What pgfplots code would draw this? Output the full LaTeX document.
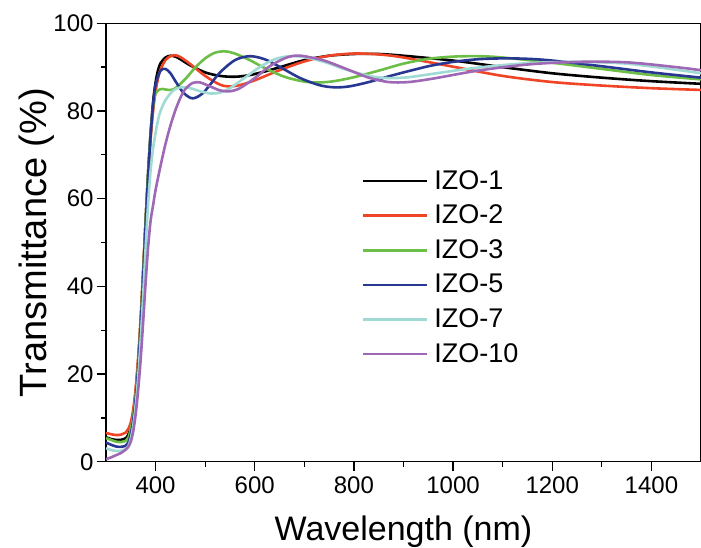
\documentclass[border=0pt]{standalone}
\usepackage{fontspec}
\setmainfont{Liberation Sans}
\usepackage{pgfplots}
\pgfplotsset{compat=1.18}
\definecolor{izoone}{RGB}{0,0,0}
\definecolor{izotwo}{RGB}{240,68,38}
\definecolor{izothree}{RGB}{108,190,70}
\definecolor{izofive}{RGB}{40,56,146}
\definecolor{izoseven}{RGB}{160,218,212}
\definecolor{izoten}{RGB}{158,104,182}

\begin{document}
\begin{tikzpicture}
\useasboundingbox (-106pt,-86.2pt) rectangle (595pt,461.8pt);
\begin{axis}[
  scale only axis,
  width=595pt,
  height=438.5pt,
  xmin=300, xmax=1500,
  ymin=0, ymax=100,
  xtick={400,600,...,1400},
  ytick={0,20,...,100},
  minor x tick num=1,
  minor y tick num=1,
  tick align=outside,
  xtick pos=bottom,
  ytick pos=left,
  major tick length=9pt,
  minor tick length=5pt,
  axis line style={line width=1.3pt},
  every tick/.style={black, line width=1.3pt},
  tick label style={font=\fontsize{24}{28}\selectfont},
  xticklabel style={yshift=-2pt},
  /pgf/number format/assume math mode=true,
  /pgf/number format/1000 sep={},
  xlabel={Wavelength (nm)},
  ylabel={Transmittance (\%)},
  xlabel style={font=\fontsize{34}{40}\selectfont, at={(axis description cs:0.5,-0.1802)}, anchor=base},
  ylabel style={font=\fontsize{38}{44}\selectfont, at={(axis description cs:-0.1008,0.5)}, anchor=base},
  legend cell align=left,
  legend style={draw=none, fill=none, inner sep=0pt, outer sep=0pt,
    at={(axis description cs:0.430,0.665)}, anchor=north west,
    font=\fontsize{27}{32}\selectfont,
    row sep=12.6pt, column sep=6pt,
    nodes={inner sep=0pt, text height=19pt, text depth=3pt}},
  legend image code/.code={\draw[#1, line width=2.6pt] (0pt,0pt) -- (64pt,0pt);},
  every axis plot/.append style={line width=2.6pt, smooth, tension=0.5}
]
\addplot[izoone] coordinates {
(300,5.6) (310,5.2) (320,5.0) (330,5.0) (340,5.4) (345,6.2) (350,8) (355,11)
(360,16) (365,23) (370,32) (375,43) (380,55) (385,66) (390,75) (395,82)
(400,86.5) (405,89.3) (410,90.9) (420,92.2) (430,92.6) (440,92.4) (450,91.8)
(470,90.4) (500,88.8) (530,88.0) (560,87.8) (590,88.2) (620,89.0) (660,90.3)
(700,91.6) (750,92.6) (800,93.0) (850,93.0) (900,92.6) (1000,91.5) (1100,90.0)
(1200,88.6) (1300,87.6) (1400,86.8) (1500,86.2)};
\addlegendentry{IZO-1}
\addplot[izotwo] coordinates {
(300,6.6) (310,6.3) (320,6.1) (330,6.2) (340,6.7) (345,7.5) (350,9) (355,12)
(360,17) (365,24) (370,33) (375,44) (380,55) (385,65) (390,73.5) (395,80)
(400,84.5) (405,87.5) (410,89.5) (420,91.6) (430,92.5) (440,92.7) (450,92.3)
(470,90.7) (500,88.0) (530,86.0) (550,85.6) (570,85.9) (600,87.0) (650,89.3)
(700,91.3) (750,92.6) (800,93.1) (850,92.9) (900,92.2) (1000,90.1) (1100,88.0)
(1200,86.6) (1300,85.8) (1400,85.2) (1500,84.8)};
\addlegendentry{IZO-2}
\addplot[izothree] coordinates {
(300,5.4) (310,5.0) (320,4.6) (330,4.5) (340,4.8) (345,5.5) (350,7.5) (355,10.5)
(360,15.5) (365,22.5) (370,32) (375,43) (380,55) (385,66) (390,75) (395,81)
(400,84) (410,85) (420,84.9) (430,84.8) (440,85.2) (460,87.3) (480,89.9)
(500,92.0) (520,93.3) (540,93.6) (560,93.1) (590,91.6) (620,89.8) (660,87.8)
(700,86.7) (730,86.5) (760,86.8) (800,87.7) (850,89.2) (900,90.8) (950,91.9)
(1000,92.4) (1050,92.5) (1100,92.2) (1200,91.0) (1300,89.6) (1400,88.2) (1500,87.2)};
\addlegendentry{IZO-3}
\addplot[izofive] coordinates {
(300,4.4) (310,3.9) (320,3.5) (330,3.4) (340,3.7) (345,4.4) (350,6.3) (355,9.5)
(360,14.5) (365,21.5) (370,31) (375,42) (380,54) (385,65) (390,74.5) (395,81.5)
(400,86) (410,89.2) (420,89.6) (430,88.6) (440,86.8) (455,84.3) (470,83.0)
(480,83.0) (495,84.0) (510,86.0) (530,88.8) (560,91.6) (590,92.5) (620,91.8)
(650,90.1) (690,87.6) (730,85.9) (760,85.4) (790,85.6) (830,86.6) (880,88.2)
(950,90.2) (1000,91.2) (1050,91.8) (1100,92.0) (1150,91.9) (1200,91.5)
(1300,90.2) (1400,88.8) (1500,87.6)};
\addlegendentry{IZO-5}
\addplot[izoseven] coordinates {
(300,3.1) (310,2.7) (320,2.5) (330,2.5) (340,2.9) (345,3.6) (350,5.3) (355,8.3)
(360,13) (365,19.5) (370,28) (375,38) (380,49) (385,59) (390,66.5) (395,71.5)
(400,75) (405,78) (410,80) (420,82.5) (435,84.6) (450,85.4) (470,85.2)
(490,84.5) (510,84.0) (530,84.2) (550,85.2) (580,87.6) (610,90.0) (640,91.8)
(670,92.5) (700,92.3) (740,91.2) (780,89.6) (830,88.0) (870,87.5) (910,87.7)
(960,88.5) (1050,89.9) (1150,90.9) (1250,91.2) (1350,90.8) (1450,89.4) (1500,88.6)};
\addlegendentry{IZO-7}
\addplot[izoten] coordinates {
(300,0.6) (310,1.0) (320,1.5) (330,2.0) (340,2.8) (345,3.4) (350,4.6) (355,7.0)
(360,11) (365,16.5) (370,23.5) (375,32) (380,41) (385,49) (390,55) (395,58.5)
(400,62) (410,67.5) (420,72.5) (430,76.7) (440,80.2) (450,83.0) (460,85.0)
(475,86.4) (490,86.5) (510,85.6) (530,84.7) (550,84.5) (570,85.2) (600,87.5)
(630,90.2) (660,92.0) (680,92.6) (700,92.5) (740,91.5) (780,89.8) (830,87.6)
(870,86.6) (910,86.6) (960,87.4) (1050,89.2) (1150,90.6) (1250,91.2)
(1350,91.1) (1450,90.0) (1500,89.3)};
\addlegendentry{IZO-10}
\end{axis}
\end{tikzpicture}
\end{document}
